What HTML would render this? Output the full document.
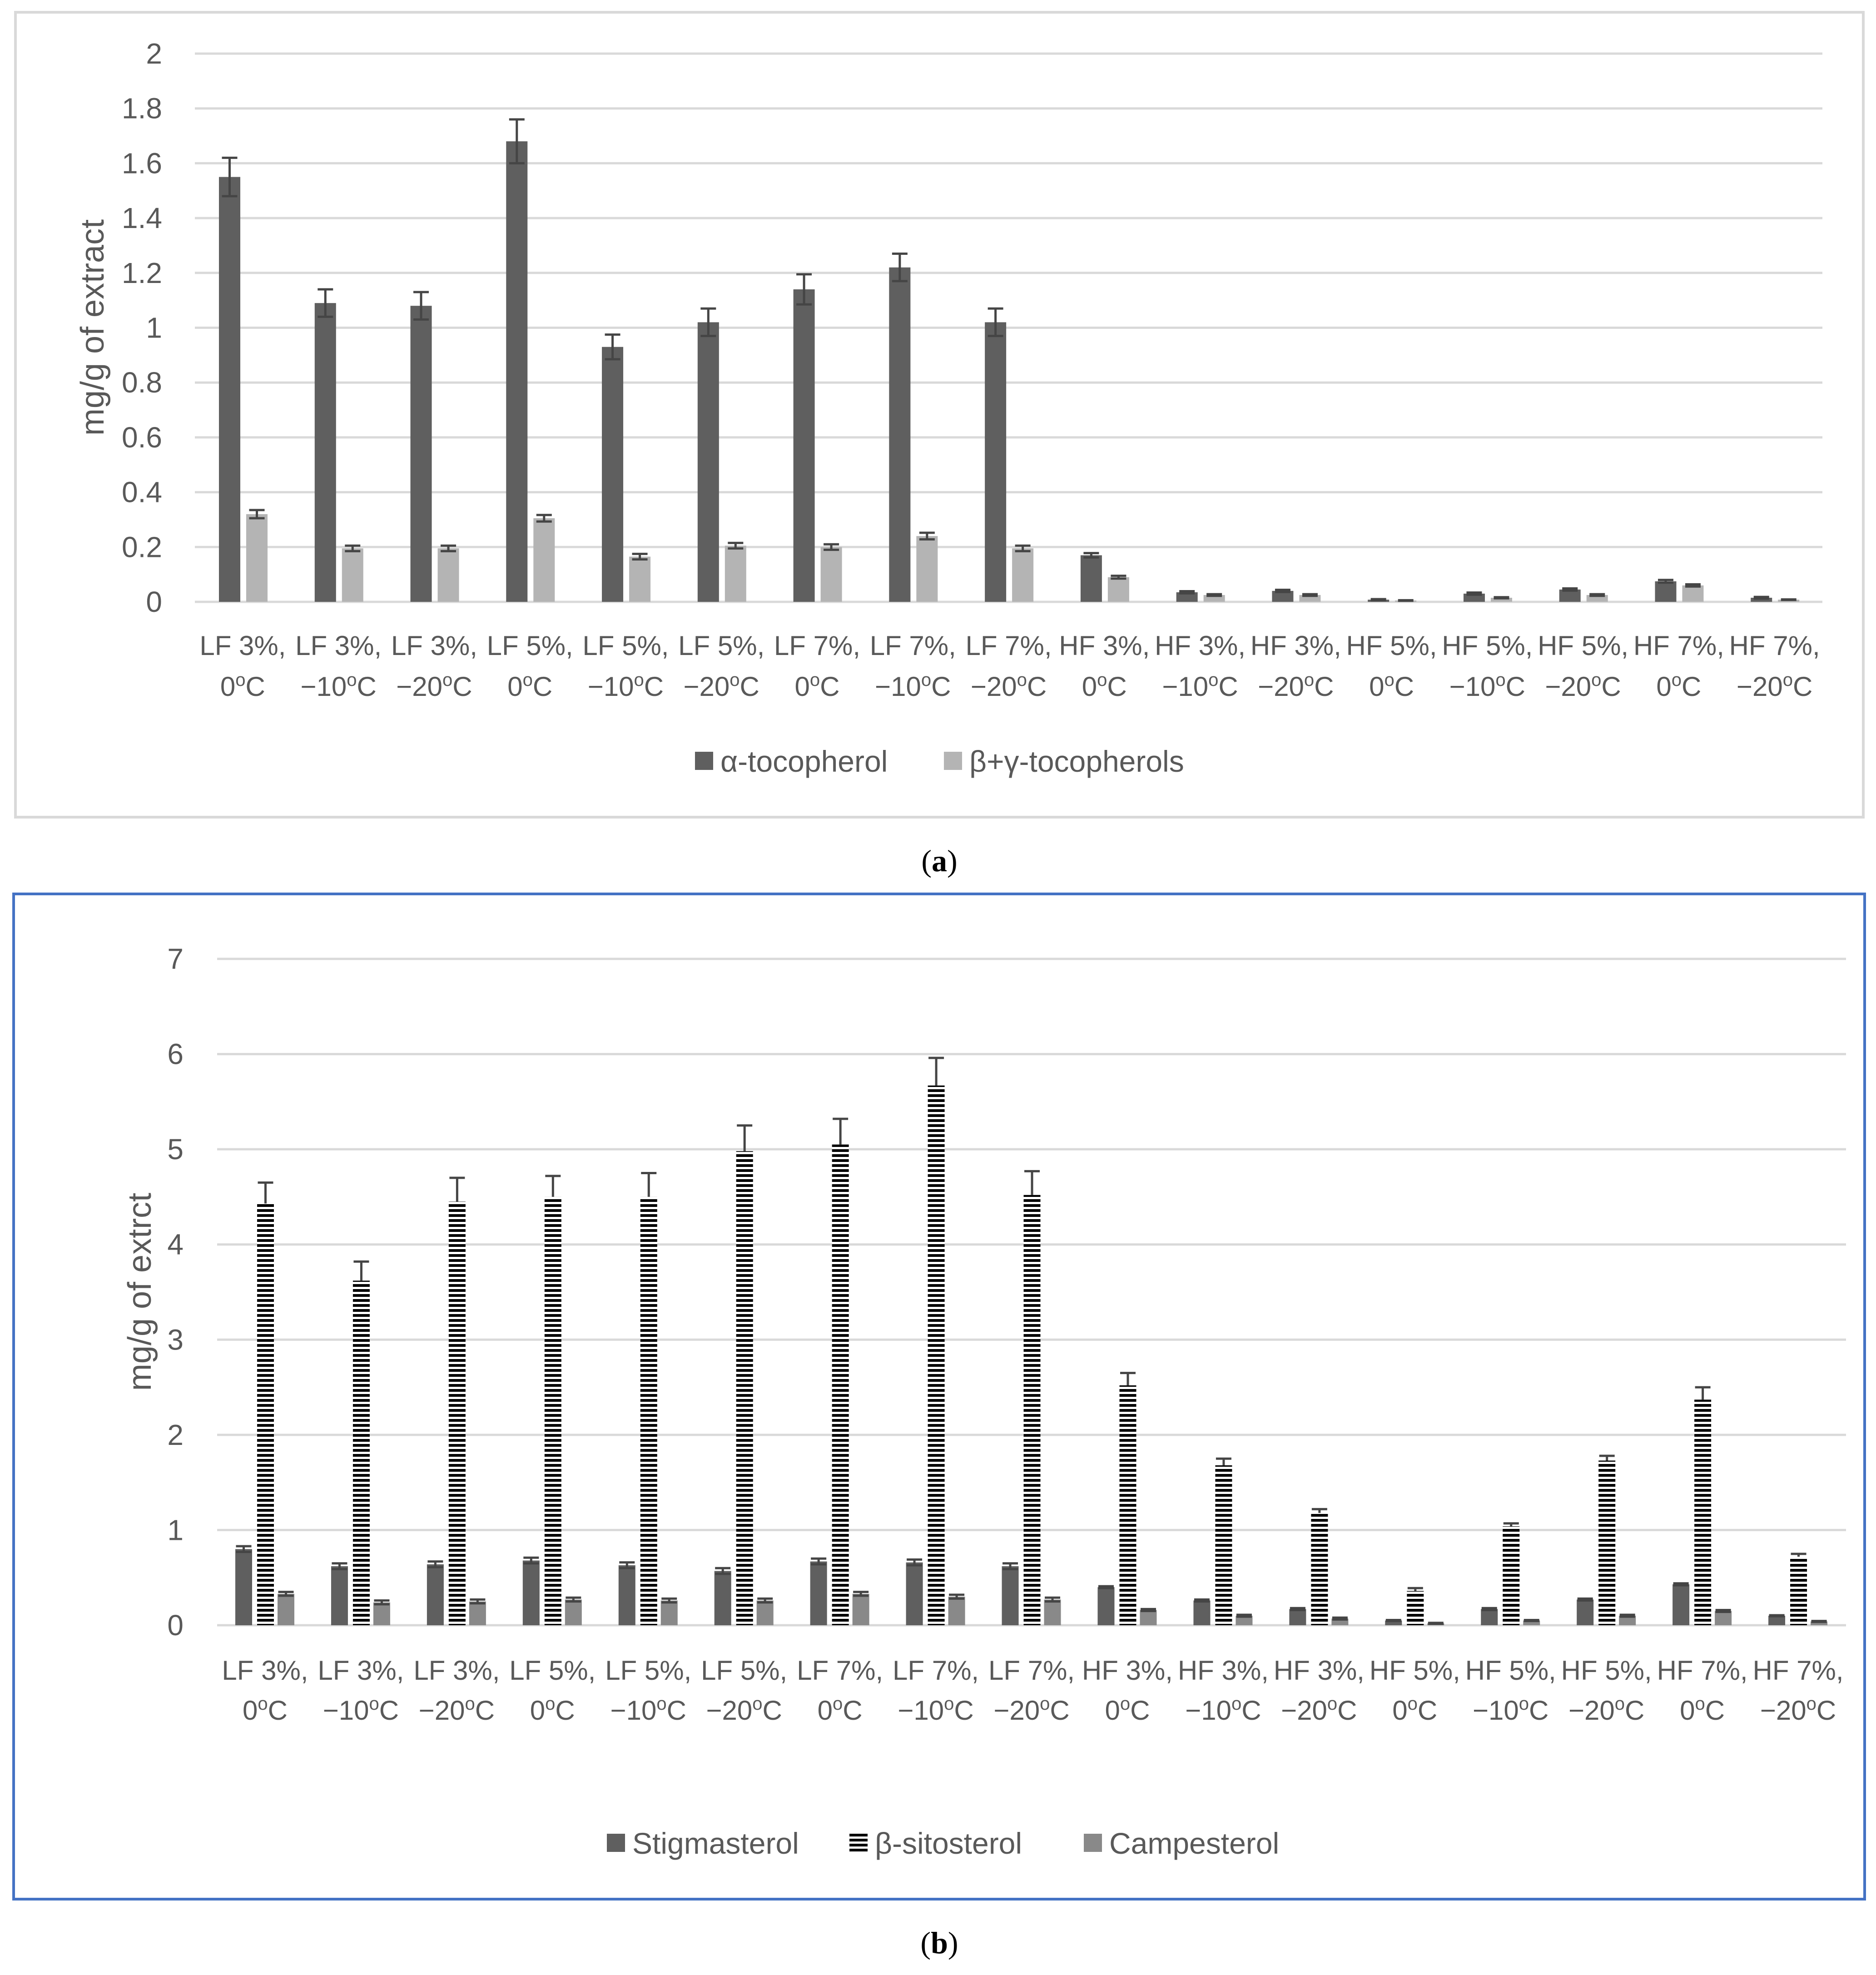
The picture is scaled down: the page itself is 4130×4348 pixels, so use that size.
<!DOCTYPE html>
<html><head><meta charset="utf-8"><style>
html,body{margin:0;padding:0;background:#fff;}
svg{display:block;font-family:"Liberation Sans",sans-serif;}
</style></head><body>
<svg id="s" width="4130" height="4348" viewBox="0 0 4130 4348" xmlns="http://www.w3.org/2000/svg">
<defs>
<pattern id="stripes" patternUnits="userSpaceOnUse" width="40" height="11"><rect width="40" height="11" fill="#fff"/><rect width="40" height="6" fill="#000"/></pattern>
</defs>
<rect x="34" y="27" width="4068" height="1772" fill="none" stroke="#d9d9d9" stroke-width="6"/>
<rect x="30" y="1968" width="4075" height="2213" fill="none" stroke="#4472c4" stroke-width="6"/>
<text x="2068" y="1918" font-family="Liberation Serif" font-size="68" text-anchor="middle" fill="#000">(<tspan font-weight="bold">a</tspan>)</text>
<text x="2068" y="4300" font-family="Liberation Serif" font-size="68" text-anchor="middle" fill="#000">(<tspan font-weight="bold">b</tspan>)</text>
<g id="ga"></g><g id="gb"></g>
</svg>
<script>
const categories = ["LF 3%,|0","LF 3%,|\u221210","LF 3%,|\u221220","LF 5%,|0","LF 5%,|\u221210","LF 5%,|\u221220","LF 7%,|0","LF 7%,|\u221210","LF 7%,|\u221220","HF 3%,|0","HF 3%,|\u221210","HF 3%,|\u221220","HF 5%,|0","HF 5%,|\u221210","HF 5%,|\u221220","HF 7%,|0","HF 7%,|\u221220"];
const alphaToc = [1.55,1.09,1.08,1.68,0.93,1.02,1.14,1.22,1.02,0.17,0.035,0.04,0.008,0.03,0.045,0.075,0.015];
const alphaErr = [0.07,0.05,0.05,0.08,0.045,0.05,0.055,0.05,0.05,0.008,0.004,0.004,0.002,0.004,0.004,0.005,0.003];
const betaToc = [0.32,0.195,0.195,0.305,0.165,0.205,0.2,0.24,0.195,0.09,0.025,0.025,0.005,0.015,0.025,0.06,0.008];
const betaErr = [0.015,0.01,0.01,0.012,0.01,0.01,0.01,0.012,0.01,0.005,0.003,0.003,0.001,0.002,0.003,0.004,0.001];
const ticksA = ["0","0.2","0.4","0.6","0.8","1","1.2","1.4","1.6","1.8","2"];
const stig = [0.8,0.62,0.64,0.68,0.63,0.57,0.67,0.66,0.62,0.4,0.26,0.17,0.05,0.17,0.27,0.43,0.1];
const stigErr = [0.03,0.03,0.03,0.03,0.03,0.03,0.03,0.03,0.03,0.01,0.01,0.01,0.005,0.01,0.01,0.01,0.005];
const sito = [4.43,3.62,4.45,4.5,4.5,4.98,5.05,5.67,4.52,2.52,1.68,1.18,0.36,1.04,1.73,2.37,0.72];
const sitoErr = [0.22,0.2,0.25,0.22,0.25,0.27,0.27,0.29,0.25,0.13,0.07,0.04,0.03,0.03,0.05,0.13,0.03];
const camp = [0.33,0.24,0.25,0.27,0.26,0.26,0.33,0.3,0.27,0.16,0.1,0.07,0.02,0.05,0.1,0.15,0.04];
const campErr = [0.02,0.02,0.02,0.02,0.02,0.02,0.02,0.02,0.02,0.01,0.01,0.01,0.005,0.005,0.01,0.01,0.005];
const ticksB = ["0","1","2","3","4","5","6","7"];

const NS="http://www.w3.org/2000/svg";
function mk(parent,tag,attrs){const e=document.createElementNS(NS,tag);for(const k in attrs)e.setAttribute(k,attrs[k]);parent.appendChild(e);return e;}

function drawChart(g,cfg){
  const yS=v=>cfg.y0-(v/cfg.max)*(cfg.y0-cfg.yTop);
  const gw=(cfg.x1-cfg.x0)/categories.length;
  cfg.ticks.forEach((t,i)=>{
    const v=parseFloat(t);
    const l=mk(g,'line',{x1:cfg.x0,x2:cfg.x1,y1:yS(v),y2:yS(v),stroke:'#d9d9d9','stroke-width':5});
    
    
    const tx=mk(g,'text',{x:cfg.tickX,y:yS(v)+22,'font-size':64,fill:'#595959','text-anchor':'end'});
    tx.textContent=t;
    
    
  });
  const yt=mk(g,'text',{x:0,y:0,'font-size':72,fill:'#595959','text-anchor':'middle',transform:`translate(${cfg.titleX},${cfg.titleY}) rotate(-90)`});
  yt.textContent=cfg.title;
  
  
  categories.forEach((c,i)=>{
    const gx=cfg.x0+i*gw;
    cfg.series.forEach(s=>{
      const v=s.data[i],e=s.err[i];
      const r=mk(g,'rect',{x:gx+s.off,y:yS(v),width:s.w,height:cfg.y0-yS(v),fill:s.fill});
      
      
      const cx=gx+s.off+s.w/2;
      const lo=s.upOnly?v:v-e;
      let d=`M${cx},${yS(lo)}V${yS(v+e)}M${cx-17},${yS(v+e)}H${cx+17}`;
      if(!s.upOnly) d+=`M${cx-17},${yS(v-e)}H${cx+17}`;
      const eb=mk(g,'path',{d:d,stroke:'#454545','stroke-width':5,fill:'none'});
      
      
    });
    const parts=c.split('|');
    const t=mk(g,'text',{x:gx+gw/2,y:cfg.lab1,'font-size':60,fill:'#595959','text-anchor':'middle'});
    t.textContent=parts[0];
    
    
    const t2=mk(g,'text',{x:gx+gw/2,y:cfg.lab2,'font-size':60,fill:'#595959','text-anchor':'middle'});
    
    
    const a=mk(t2,'tspan',{});a.textContent=parts[1];
    const o=mk(t2,'tspan',{'font-size':40,dy:-22});o.textContent='o';
    const cc=mk(t2,'tspan',{dy:22});cc.textContent='C';
  });
  cfg.legend.forEach(l=>{
    const r=mk(g,'rect',{x:l.x,y:cfg.legY-22,width:40,height:40,fill:l.fill});
    
    
    const t=mk(g,'text',{x:l.x+56,y:cfg.legY+22,'font-size':66,fill:'#595959'});
    t.textContent=l.label;
    
    
  });
}
drawChart(document.getElementById('ga'),{
  x0:429,x1:4012,y0:1325,yTop:118,max:2,ticks:ticksA,tickX:357,
  title:'mg/g of extract',titleX:228,titleY:721,lab1:1442,lab2:1532,legY:1677,
  series:[{name:'alpha-tocopherol',data:alphaToc,err:alphaErr,off:53,w:47,fill:'#5f5f5f'},
          {name:'beta-gamma-tocopherols',data:betaToc,err:betaErr,off:113,w:47,fill:'#b4b4b4'}],
  legend:[{x:1530,fill:'#5f5f5f',label:'\u03b1-tocopherol'},{x:2078,fill:'#b4b4b4',label:'\u03b2+\u03b3-tocopherols'}]
});
drawChart(document.getElementById('gb'),{
  x0:478,x1:4064,y0:3578,yTop:2111,max:7,ticks:ticksB,tickX:404,
  title:'mg/g of extrct',titleX:332,titleY:2844,lab1:3698,lab2:3786,legY:4059,
  series:[{name:'stigmasterol',data:stig,err:stigErr,off:40,w:37,fill:'#5f5f5f'},
          {name:'beta-sitosterol',data:sito,err:sitoErr,off:88,w:37,fill:'url(#stripes)',upOnly:true},
          {name:'campesterol',data:camp,err:campErr,off:133,w:37,fill:'#898989'}],
  legend:[{x:1336,fill:'#5f5f5f',label:'Stigmasterol'},{x:1870,fill:'url(#stripes)',label:'\u03b2-sitosterol'},{x:2386,fill:'#898989',label:'Campesterol'}]
});
</script>
</body></html>
